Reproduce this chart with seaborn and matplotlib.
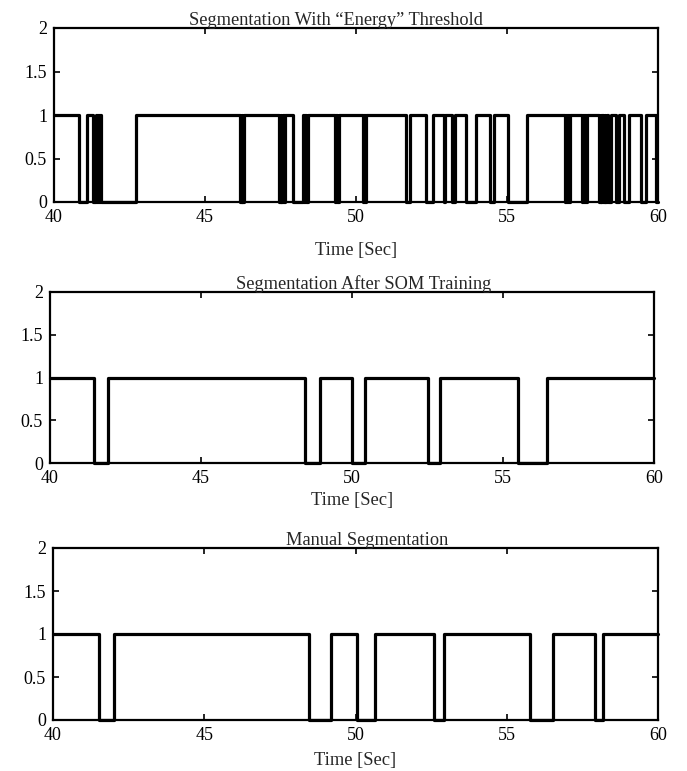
import numpy as np
import pandas as pd
import matplotlib
matplotlib.use("Agg")
import matplotlib.pyplot as plt
import seaborn as sns

# Segment data (seconds): each "on" starts a speech segment, "off" ends it
energy_on = [40.0, 41.10, 41.39, 41.46, 41.53, 42.72, 46.21, 46.28, 47.50, 47.57,
             47.64, 48.24, 48.31, 48.40, 49.34, 49.43, 50.26, 50.34, 51.80, 52.54,
             52.96, 53.28, 53.96, 54.56, 55.67, 56.96, 57.03, 57.10, 57.51, 57.58,
             57.66, 58.10, 58.16, 58.23, 58.30, 58.45, 58.70, 59.03, 59.61]
energy_off = [40.84, 41.30, 41.43, 41.50, 41.57, 46.17, 46.24, 47.46, 47.53, 47.60,
              47.90, 48.27, 48.35, 49.30, 49.38, 50.22, 50.29, 51.66, 52.33, 52.90,
              53.17, 53.64, 54.44, 55.04, 56.92, 56.99, 57.06, 57.47, 57.54, 57.61,
              58.06, 58.12, 58.19, 58.26, 58.36, 58.60, 58.88, 59.43, 59.93]

som_on = [40.0, 41.92, 48.94, 50.43, 52.93, 56.45]
som_off = [41.45, 48.45, 50.00, 52.51, 55.51, 60.0]

manual_on = [40.0, 42.00, 49.19, 50.65, 52.91, 56.52, 58.18]
manual_off = [41.52, 48.47, 50.05, 52.61, 55.78, 57.93, 60.0]

titles = ["Segmentation With \u201cEnergy\u201d Threshold",
          "Segmentation After SOM Training",
          "Manual Segmentation"]
xticks = [40, 45, 50, 55, 60]
yticks = [0, 0.5, 1, 1.5, 2]
ytick_labels = ["0", "0.5", "1", "1.5", "2"]


def to_steps(on, off, t_end=60.0):
    x, y = [], []
    for a, b in zip(on, off):
        x += [a, b]
        y += [1, 0]
    if x[-1] >= t_end:
        x[-1] = t_end
        y[-1] = 1
    else:
        x.append(t_end)
        y.append(0)
    return pd.DataFrame({"t": x, "seg": y})


sns.set_style("ticks")
plt.rcParams["font.family"] = ["Liberation Serif", "DejaVu Serif"]
plt.rcParams["font.size"] = 13

W, H = 687, 771
fig = plt.figure(figsize=(W / 100, H / 100), dpi=100)

# axes boxes in pixels: left, top, right, bottom
boxes = [(54, 28, 658, 202), (50, 292, 654, 463), (53, 548, 658, 720)]
title_x = [0.467, 0.52, 0.52]
label_pad = [11.5, 3.5, 5.5]
series = [(energy_on, energy_off), (som_on, som_off), (manual_on, manual_off)]

for i, ((l, t, r, b), (on, off)) in enumerate(zip(boxes, series)):
    ax = fig.add_axes([l / W, 1 - b / H, (r - l) / W, (b - t) / H])
    df = to_steps(on, off)
    sns.lineplot(data=df, x="t", y="seg", ax=ax, color="black", linewidth=2.3,
                 drawstyle="steps-post", estimator=None, sort=False, clip_on=False)
    ax.set_xlim(40, 60)
    ax.set_ylim(0, 2)
    ax.set_xticks(xticks)
    ax.set_yticks(yticks)
    ax.set_yticklabels(ytick_labels)
    ax.tick_params(direction="in", top=True, right=True, length=4, width=1.2,
                   labelsize=13, colors="black", pad=5)
    for s in ax.spines.values():
        s.set_visible(True)
        s.set_linewidth(1.6)
        s.set_color("black")
    ax.set_title(titles[i], x=title_x[i], pad=2, fontsize=13.2)
    ax.set_xlabel("Time [Sec]", fontsize=13.3, labelpad=label_pad[i])
    ax.set_ylabel("")

fig.savefig("out.png", dpi=100)
